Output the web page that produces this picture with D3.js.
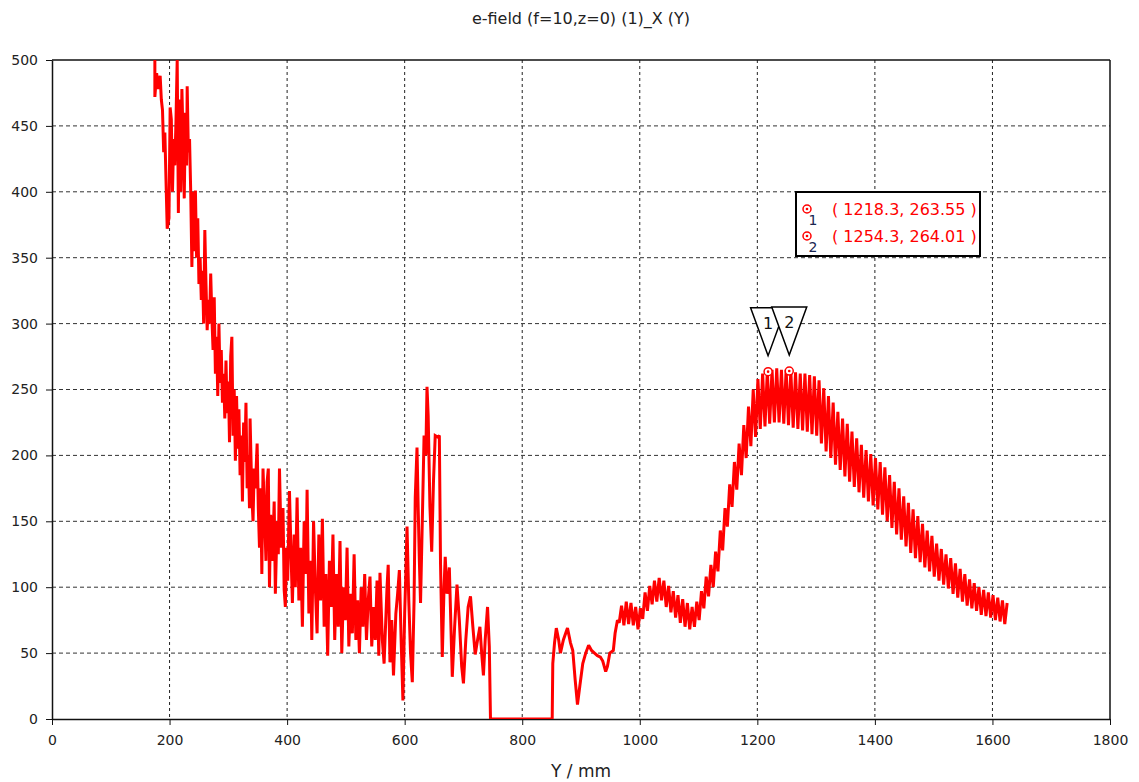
<!DOCTYPE html>
<html>
<head>
  <title>e-field</title>
  <script src="https://cdn.jsdelivr.net/npm/d3@7"></script>
  <style>
    body { margin: 0; background: #fff; }
    text { font-family: "DejaVu Sans", sans-serif; }
  </style>
</head>
<body>
<script>
  const w = 1139;
  const h = 782;

  // axis ticks
  const xTicks = [0, 200, 400, 600, 800, 1000, 1200, 1400, 1600, 1800];
  const yTicks = [0, 50, 100, 150, 200, 250, 300, 350, 400, 450, 500];

  // noisy near part of the curve, [Y mm, |E|]
  const nearField = [
    [175,500],[175,472],[178,490],[181,478],[184,488],[186,470],[188,462],[190,430],[192,445],[194,408],
    [196,372],[199,380],[201,464],[203,455],[205,400],[207,440],[209,420],[211,455],[213,500],[215,384],
    [217,470],[219,400],[221,478],[223,440],[225,395],[227,460],[229,420],[230,480],[232,430],[234,440],
    [236,400],[238,343],[240,400],[242,355],[244,401],[246,350],[248,380],[250,330],[252,350],[254,318],
    [256,340],[258,300],[260,371],[262,330],[264,295],[266,318],[268,300],[270,338],[272,305],[274,280],
    [276,320],[278,262],[280,290],[282,245],[284,300],[286,255],[288,280],[290,240],[292,262],[294,228],
    [296,272],[298,232],[300,256],[302,210],[304,275],[306,290],[308,215],[310,250],[312,196],[314,245],
    [316,205],[318,235],[320,185],[322,215],[324,165],[326,225],[328,195],[330,240],[332,175],[334,200],
    [336,160],[337,228],[340,170],[342,150],[344,190],[346,175],[349,209],[351,160],[353,130],[355,175],
    [357,110],[359,190],[362,150],[364,120],[366,180],[368,190],[370,100],[372,155],[375,120],[378,165],
    [380,95],[383,150],[385,125],[387,190],[390,130],[393,160],[395,98],[397,85],[399,130],[401,105],
    [404,173],[407,120],[409,88],[412,140],[414,100],[417,168],[420,90],[423,130],[426,70],[429,150],
    [432,110],[434,174],[437,80],[440,120],[442,60],[445,150],[448,100],[451,65],[454,140],[457,90],
    [460,152],[463,70],[466,110],[469,48],[472,120],[475,85],[478,140],[481,60],[484,110],[487,70],
    [490,135],[493,50],[496,100],[499,75],[502,130],[505,55],[508,95],[511,65],[514,125],[517,60],
    [520,90],[523,50],[526,100],[529,70],[532,110],[535,60],[538,90],[541,108],[544,55],[547,85],
    [550,60],[553,105],[556,48],[558,111],[562,60],[565,42],[570,100],[572,117],[575,43],[578,75],
    [581,33],[585,80],[588,95],[591,113],[594,60],[597,14],[600,80],[602,110],[604,146],[607,90],
    [610,50],[613,28],[616,90],[618,168],[621,206],[623,160],[625,120],[627,88],[630,150],[633,215],
    [636,200],[638,252],[640,230],[643,161],[646,127],[649,180],[652,215],[656,214],[659,215],[661,118],
    [664,47],[667,100],[669,123],[672,95],[676,115],[681,32],[685,70],[689,102],[693,75],[697,40],
    [700,27],[704,60],[708,85],[712,93],[716,70],[720,49],[724,60],[728,70],[731,50],[734,33],
    [737,60],[741,85],[744,55],[746,0]
  ];

  // zero stretch and the smooth part after it
  const midField = [
    [746,0],[851,0],[852,42],[855,58],[858,69],[862,60],[865,50],[870,60],[877,69],[882,58],
    [886,52],[890,30],[894,11],[898,25],[903,42],[908,50],[913,56],[918,52],[923,50],[928,48],
    [933,47],[937,44],[942,36],[945,40],[949,50],[955,52],[958,65],[962,75]
  ];

  // fast oscillating far part
  const farField = [
    [965,73],[969,86],[973,71],[977,89],[981,72],[985,88],[989,71],[993,85],[997,68],[1001,84],
    [1005,76],[1009,96],[1013,82],[1017,101],[1021,87],[1025,105],[1029,89],[1033,107],[1037,90],[1041,105],
    [1045,85],[1049,101],[1053,81],[1057,97],[1061,77],[1065,94],[1069,73],[1073,91],[1077,70],[1081,88],
    [1085,68],[1089,85],[1093,70],[1097,89],[1101,75],[1105,97],[1109,84],[1113,108],[1117,93],[1121,117],
    [1125,100],[1129,127],[1133,112],[1137,143],[1141,128],[1145,160],[1149,146],[1153,178],[1157,161],[1161,195],
    [1165,174],[1169,209],[1173,185],[1177,223],[1181,198],[1185,237],[1189,207],[1193,250],[1197,214],[1201,258],
    [1205,220],[1209,262],[1213,222],[1217,264],[1221,224],[1225,265],[1229,225],[1233,266],[1237,225],[1241,265],
    [1245,224],[1249,265],[1253,223],[1257,264],[1261,221],[1265,263],[1269,220],[1273,262],[1277,219],[1281,262],
    [1285,218],[1289,261],[1293,216],[1297,260],[1301,215],[1305,257],[1309,209],[1313,251],[1317,203],[1321,245],
    [1325,198],[1329,240],[1333,193],[1337,233],[1341,189],[1345,228],[1349,184],[1353,224],[1357,180],[1361,218],
    [1365,176],[1369,213],[1373,172],[1377,208],[1381,168],[1385,204],[1389,165],[1393,201],[1397,162],[1401,198],
    [1405,159],[1409,195],[1413,155],[1417,191],[1421,150],[1425,185],[1429,145],[1433,180],[1437,140],[1441,175],
    [1445,136],[1449,169],[1453,131],[1457,164],[1461,126],[1465,159],[1469,122],[1473,154],[1477,119],[1481,148],
    [1485,115],[1489,143],[1493,112],[1497,139],[1501,108],[1505,133],[1509,105],[1513,129],[1517,102],[1521,125],
    [1525,99],[1529,122],[1533,95],[1537,118],[1541,92],[1545,114],[1549,89],[1553,110],[1557,86],[1561,106],
    [1565,84],[1569,103],[1573,82],[1577,100],[1581,79],[1585,98],[1589,78],[1593,96],[1597,77],[1601,94],
    [1605,75],[1609,92],[1613,74],[1617,90],[1621,72],[1625,88]
  ];

  // curve markers
  const markerIds = ["1", "2"];
  const markerX = [1218.3, 1254.3];
  const markerY = [263.55, 264.01];

  const margin = { top: 60, right: 29, bottom: 63, left: 52 };

  const xScale = d3.scaleLinear()
    .domain([0, 1800])
    .range([margin.left, w - margin.right]);
  const yScale = d3.scaleLinear()
    .domain([0, 500])
    .range([h - margin.bottom, margin.top]);

  const svg = d3.select("body")
    .append("svg")
    .attr("width", w)
    .attr("height", h);

  svg.append("defs").append("clipPath").attr("id", "plot")
    .append("rect")
    .attr("x", margin.left).attr("y", margin.top)
    .attr("width", w - margin.left - margin.right)
    .attr("height", h - margin.top - margin.bottom);

  // grid
  svg.append("g").selectAll("line")
    .data(xTicks.slice(1, -1))
    .enter().append("line")
    .attr("x1", d => xScale(d)).attr("x2", d => xScale(d))
    .attr("y1", margin.top).attr("y2", h - margin.bottom)
    .attr("stroke", "#222").attr("stroke-dasharray", "3,3");
  svg.append("g").selectAll("line")
    .data(yTicks.slice(1, -1))
    .enter().append("line")
    .attr("y1", d => yScale(d)).attr("y2", d => yScale(d))
    .attr("x1", margin.left).attr("x2", w - margin.right)
    .attr("stroke", "#333").attr("stroke-dasharray", "4,3");

  // axes
  const fmt = d3.format("d");
  const xAxis = svg.append("g")
    .attr("transform", `translate(0,${h - margin.bottom})`)
    .call(d3.axisBottom(xScale).tickValues(xTicks).tickFormat(fmt)
      .tickSize(6).tickSizeOuter(0).tickPadding(10));
  const yAxis = svg.append("g")
    .attr("transform", `translate(${margin.left},0)`)
    .call(d3.axisLeft(yScale).tickValues(yTicks).tickFormat(fmt)
      .tickSize(6).tickSizeOuter(0).tickPadding(8));
  [xAxis, yAxis].forEach(a => {
    a.select(".domain").attr("stroke", "#111").attr("stroke-width", 1.5);
    a.selectAll(".tick line").attr("stroke", "#111");
    a.selectAll("text").attr("font-size", 14).attr("fill", "#222")
      .style("font-family", "DejaVu Sans");
  });

  // top and right frame
  svg.append("line")
    .attr("x1", margin.left).attr("x2", w - margin.right)
    .attr("y1", margin.top).attr("y2", margin.top)
    .attr("stroke", "#111").attr("stroke-width", 1.5);
  svg.append("line")
    .attr("x1", w - margin.right).attr("x2", w - margin.right)
    .attr("y1", margin.top).attr("y2", h - margin.bottom)
    .attr("stroke", "#111").attr("stroke-width", 1.5);

  // the curve
  const line = d3.line()
    .x(d => xScale(d[0]))
    .y(d => yScale(d[1]));
  const curve = nearField.concat(midField.slice(1), farField);
  svg.append("path")
    .datum(curve)
    .attr("clip-path", "url(#plot)")
    .attr("fill", "none")
    .attr("stroke", "#ff0000")
    .attr("stroke-width", 3)
    .attr("stroke-linejoin", "miter")
    .attr("stroke-miterlimit", 2)
    .attr("d", line);

  // titles
  svg.append("text")
    .attr("x", (margin.left + w - margin.right) / 2).attr("y", 24)
    .attr("text-anchor", "middle").attr("font-size", 16).attr("fill", "#222")
    .text("e-field (f=10,z=0) (1)_X (Y)");
  svg.append("text")
    .attr("x", (margin.left + w - margin.right) / 2).attr("y", 777)
    .attr("text-anchor", "middle").attr("font-size", 17).attr("fill", "#222")
    .text("Y / mm");

  // marker flags (inverted triangles)
  markerIds.forEach((id, i) => {
    const mx = xScale(markerX[i]);
    const my = yScale(markerY[i]) - 16;
    svg.append("path")
      .attr("d", `M${mx},${my}L${mx - 17.5},${my - 48}L${mx + 17.5},${my - 48}Z`)
      .attr("fill", "#fff").attr("stroke", "#000").attr("stroke-width", 1.5);
    svg.append("text")
      .attr("x", mx).attr("y", my - 27)
      .attr("text-anchor", "middle").attr("font-size", 16).attr("fill", "#111")
      .text(id);
  });

  // marker points
  const pts = svg.append("g").selectAll("g")
    .data(markerX.map((x, i) => [x, markerY[i]]))
    .enter().append("g")
    .attr("transform", d => `translate(${xScale(d[0])},${yScale(d[1])})`);
  pts.append("circle").attr("r", 4).attr("fill", "#fff").attr("stroke", "#ff0000").attr("stroke-width", 1.5);
  pts.append("circle").attr("r", 1.3).attr("fill", "#ff0000");

  // marker readout box
  const box = svg.append("g");
  box.append("rect")
    .attr("x", 796).attr("y", 192).attr("width", 184).attr("height", 64)
    .attr("fill", "#fff").attr("stroke", "#000").attr("stroke-width", 2);
  markerIds.forEach((id, i) => {
    const ry = 209 + i * 27;
    box.append("circle").attr("cx", 807).attr("cy", ry).attr("r", 4)
      .attr("fill", "#fff").attr("stroke", "#ff0000").attr("stroke-width", 1.5);
    box.append("circle").attr("cx", 807).attr("cy", ry).attr("r", 1.3).attr("fill", "#ff0000");
    box.append("text").attr("x", 813).attr("y", ry + 16)
      .attr("text-anchor", "middle").attr("font-size", 14).attr("fill", "#1a2550")
      .text(id);
    box.append("text").attr("x", 832).attr("y", ry + 6)
      .attr("font-size", 16).attr("fill", "#ff0000")
      .text(`( ${markerX[i]}, ${markerY[i].toFixed(2)} )`);
  });
</script>
</body>
</html>
